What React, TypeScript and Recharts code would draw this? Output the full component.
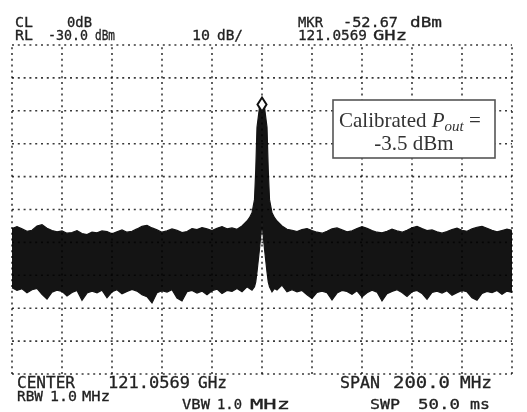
import React from 'react';
import { ComposedChart, Area, XAxis, YAxis, ReferenceLine, ReferenceDot } from 'recharts';

// frequency offset from centre (MHz), span 200 MHz
const freqOffsets = [
  -100, -98, -96, -94, -92, -90, -88, -86, -84, -82, -80, -78, -76, -74, -72, -70, -68, -66, -64, -62,
  -60, -58, -56, -54, -52, -50, -48, -46, -44, -42, -40, -38, -36, -34, -32, -30, -28, -26, -24, -22,
  -20, -18, -16, -14, -12,
  -10, -8, -6, -5, -4, -3, -2.5, -2, -1, 0, 1, 2, 2.5, 3, 4, 5, 6, 8, 10,
  12, 14, 16, 18, 20, 22, 24, 26, 28, 30, 32, 34, 36, 38, 40, 42, 44, 46, 48, 50,
  52, 54, 56, 58, 60, 62, 64, 66, 68, 70, 72, 74, 76, 78, 80, 82, 84, 86, 88, 90,
  92, 94, 96, 98, 100,
];

// upper envelope of the trace (dBm)
const upperTrace = [
  -85.8, -85.2, -85.9, -86.6, -86.3, -85.0, -84.6, -85.7, -86.4, -86.8, -86.5, -87.2, -87.0, -86.4, -87.3, -87.6, -86.9, -87.1, -86.5, -86.7,
  -87.4, -86.8, -86.2, -86.9, -86.6, -85.9, -85.1, -84.8, -85.6, -86.2, -86.9, -86.5, -85.9, -86.3, -87.0, -86.7, -85.8, -86.1, -85.5, -85.9,
  -86.4, -85.7, -85.2, -85.9, -85.6,
  -86.0, -85.0, -83.5, -82.5, -81.0, -77.0, -68.0, -55.0, -49.0, -47.5, -49.0, -55.0, -68.0, -77.0, -81.0, -82.5, -83.5, -85.0, -86.0,
  -86.3, -86.7, -86.1, -85.8, -86.4, -86.9, -87.2, -86.6, -85.9, -85.6, -86.2, -86.8, -86.5, -85.8, -85.2, -85.7, -86.4, -86.9, -87.1, -86.6,
  -86.0, -86.5, -86.9, -86.3, -85.6, -85.1, -85.8, -86.4, -86.2, -86.8, -87.2, -86.7, -86.1, -85.7, -86.3, -86.6, -85.9, -85.4, -85.1, -85.7,
  -86.3, -86.8, -86.4, -86.0, -86.3,
];

// lower envelope of the trace (dBm)
const lowerTrace = [
  -103.8, -104.6, -104.1, -105.3, -104.4, -104.0, -105.8, -107.2, -105.1, -104.5, -104.9, -106.3, -105.2, -104.6, -107.6, -105.4, -104.8, -105.3, -104.5, -106.8,
  -105.0, -104.4, -105.6, -104.9, -104.3, -104.8, -105.9, -106.5, -108.4, -105.3, -104.7, -105.1, -104.4, -106.9, -107.8, -105.0, -104.6, -105.4, -104.8, -105.9,
  -104.7, -104.2, -105.5, -104.6, -104.9,
  -104.0, -105.0, -103.5, -104.0, -104.5, -103.5, -102.0, -99.0, -92.0, -84.0, -92.0, -99.0, -102.0, -103.5, -105.0, -104.0, -104.5, -103.0, -105.0,
  -104.4, -105.0, -104.6, -105.9, -107.0, -105.2, -104.8, -105.3, -107.5, -105.4, -104.6, -104.9, -105.8, -104.7, -106.6, -105.3, -104.5, -105.1, -107.8, -105.6,
  -104.9, -104.4, -105.2, -106.4, -105.0, -104.6, -105.5, -107.3, -105.2, -104.8, -105.4, -104.7, -106.1, -105.3, -104.6, -105.0, -106.8, -107.6, -105.5, -104.9,
  -105.3, -104.6, -105.8, -104.8, -105.2,
];

const freqTicks = [-100, -80, -60, -40, -20, 0, 20, 40, 60, 80, 100];
const levelTicks = [-130, -120, -110, -100, -90, -80, -70, -60, -50, -40, -30];

const markerFreq = 0;
const markerLevel = -47.5;

const data = freqOffsets.map((f, i) => ({ f, range: [lowerTrace[i], upperTrace[i]] }));

// header / footer readouts: [text, x, baseline, width, fontSize]
const readouts: [string, number, number, number, number][] = [
  ['CL', 15, 27, 18, 14],
  ['0dB', 67, 27, 25, 14],
  ['MKR', 298, 27, 25, 14],
  ['-52.67', 343, 27, 55, 14],
  ['dBm', 410, 27, 32, 14],
  ['RL', 15, 39.5, 18, 14],
  ['-30.0', 48, 39.5, 40, 14],
  ['dBm', 95, 39.5, 20, 14],
  ['10', 192, 39.5, 18, 14],
  ['dB/', 217, 39.5, 26, 14],
  ['121.0569', 298, 39.5, 69, 14],
  ['GHz', 373, 39.5, 34, 14],
  ['CENTER', 17, 388, 58, 16],
  ['121.0569', 108, 388, 82, 16],
  ['GHz', 198, 388, 29, 16],
  ['SPAN', 340, 388, 40, 16],
  ['200.0', 393, 388, 57, 16],
  ['MHz', 460, 388, 32, 16],
  ['RBW', 17, 401, 26, 14.5],
  ['1.0', 50, 401, 27, 14.5],
  ['MHz', 82, 401, 28, 14.5],
  ['VBW', 182, 409, 28, 14.5],
  ['1.0', 217, 409, 25, 14.5],
  ['MHz', 250, 409, 40, 14.5],
  ['SWP', 370, 409, 30, 14.5],
  ['50.0', 418, 409, 42, 14.5],
  ['ms', 470, 409, 20, 14.5],
];

const gridStyle = { stroke: '#3a3a3a', strokeWidth: 1.6, strokeDasharray: '2 3.8' };

const Diamond = (props: any) => {
  const { cx, cy } = props;
  const c = cy + 2;
  return (
    <path
      d={`M${cx} ${c - 7} L${cx + 4.5} ${c} L${cx} ${c + 7} L${cx - 4.5} ${c} Z`}
      fill="#fff"
      stroke="#111"
      strokeWidth={2}
    />
  );
};

export default function App() {
  return (
    <div style={{ position: 'absolute', left: 0, top: 0, width: 527, height: 412, background: '#fff' }}>
      {/* grid dots sit on top of the trace, multiply keeps them hidden inside the black band */}
      <style>{'.recharts-reference-line { mix-blend-mode: multiply; }'}</style>
      <ComposedChart
        width={527}
        height={412}
        data={data}
        margin={{ top: 45, right: 15, bottom: 38, left: 12 }}
      >
        <XAxis
          type="number"
          dataKey="f"
          domain={[-100, 100]}
          ticks={freqTicks}
          height={0}
          tick={false}
          tickLine={false}
          axisLine={false}
        />
        <YAxis
          type="number"
          domain={[-130, -30]}
          ticks={levelTicks}
          width={0}
          tick={false}
          tickLine={false}
          axisLine={false}
        />
        {freqTicks.map((f) => (
          <ReferenceLine key={`v${f}`} x={f} {...gridStyle} />
        ))}
        {levelTicks.map((l) => (
          <ReferenceLine key={`h${l}`} y={l} {...gridStyle} />
        ))}
        <Area
          type="linear"
          dataKey="range"
          stroke="#141414"
          strokeWidth={1.2}
          fill="#141414"
          fillOpacity={1}
          isAnimationActive={false}
          dot={false}
          activeDot={false}
        />
        <ReferenceDot x={markerFreq} y={markerLevel} shape={Diamond} />
      </ComposedChart>
      <svg
        width={527}
        height={412}
        style={{ position: 'absolute', left: 0, top: 0, pointerEvents: 'none' }}
      >
        {readouts.map(([t, x, y, w, fs], i) => (
          <text
            key={i}
            x={x}
            y={y}
            textLength={w}
            lengthAdjust="spacingAndGlyphs"
            fontFamily="'DejaVu Sans Mono', monospace"
            fontSize={fs}
            fill="#222"
            stroke="#222"
            strokeWidth={0.3}
          >
            {t}
          </text>
        ))}
        <rect x={333} y={100} width={162} height={58} fill="#fff" stroke="#555" strokeWidth={1.6} />
        <text x={339} y={127} fontFamily="'Liberation Serif', 'Times New Roman', serif" fontSize={21} fill="#333">
          <tspan>Calibrated </tspan>
          <tspan fontStyle="italic">P</tspan>
          <tspan fontStyle="italic" fontSize={15} dy={4}>out</tspan>
          <tspan dy={-4}> =</tspan>
        </text>
        <text
          x={414}
          y={150}
          textAnchor="middle"
          fontFamily="'Liberation Serif', 'Times New Roman', serif"
          fontSize={21}
          fill="#333"
        >
          -3.5 dBm
        </text>
      </svg>
    </div>
  );
}
